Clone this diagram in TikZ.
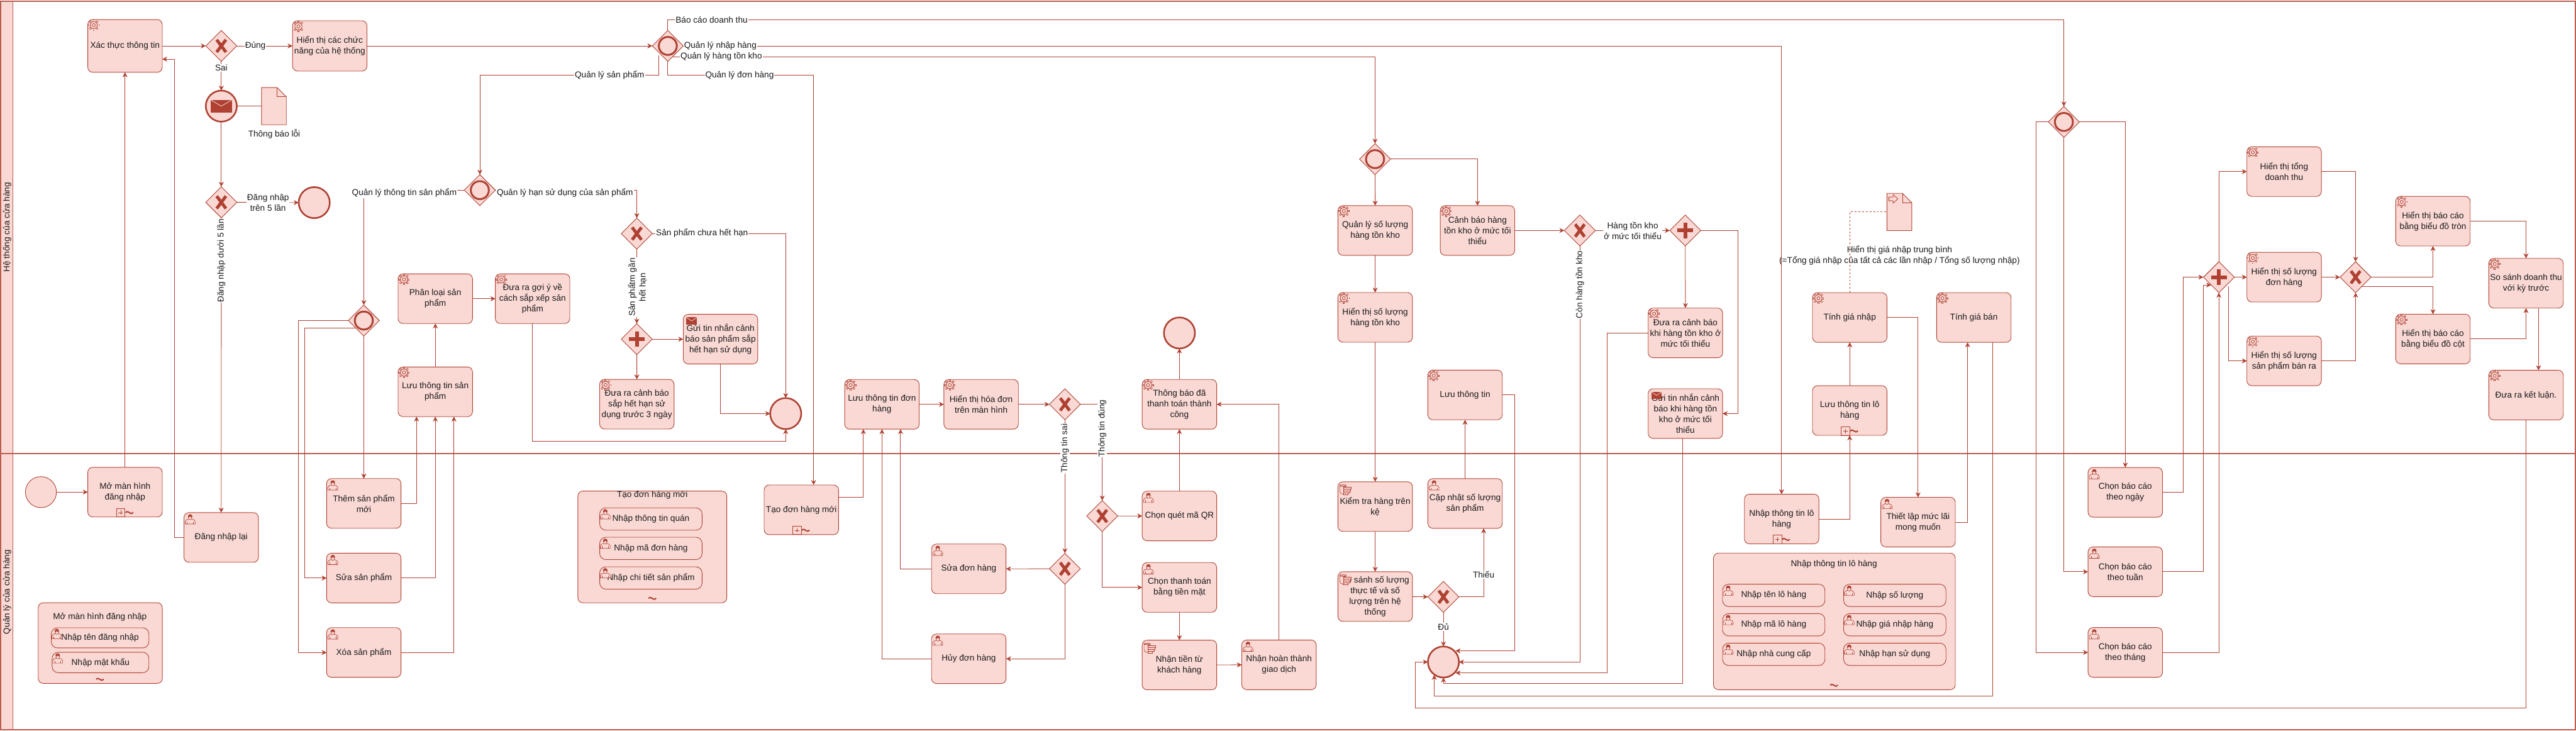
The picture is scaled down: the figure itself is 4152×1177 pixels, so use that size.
\documentclass[tikz,border=0pt]{standalone}
\usepackage{fontspec}
\setmainfont{Liberation Sans}
\usetikzlibrary{shapes.geometric,arrows.meta,calc}
\definecolor{bcol}{HTML}{AE4132}
\definecolor{bfill}{HTML}{FAD9D5}
\definecolor{txt}{HTML}{1A1A1A}
\tikzset{
  task/.style={draw=bcol,fill=bfill,rounded corners=8pt,line width=.9pt,minimum width=120pt,minimum height=80pt,inner sep=0pt,outer sep=0pt,align=center,text=txt,font=\fontsize{13.8}{17.2}\selectfont},
  subt/.style={task,rounded corners=10pt,minimum width=165pt,minimum height=36pt},
  gateway/.style={diamond,aspect=1,draw=bcol,fill=bfill,line width=.9pt,minimum width=50pt,minimum height=50pt,inner sep=0pt,outer sep=0pt},
  evt/.style={circle,draw=bcol,fill=bfill,minimum size=50pt,inner sep=0pt,outer sep=0pt,line width=.9pt},
  endevt/.style={evt,minimum size=50pt,line width=2.6pt},
  flow/.style={draw=bcol,line width=.9pt,-{Stealth[length=8pt,width=8pt,inset=2.5pt]}},
  plainln/.style={draw=bcol,line width=.9pt},
  lbl/.style={fill=white,inner sep=1pt,outer sep=0pt,align=center,text=txt,font=\fontsize{13.8}{17.2}\selectfont},
  free/.style={inner sep=0pt,outer sep=0pt,align=center,text=txt,font=\fontsize{13.8}{17.2}\selectfont},
}
\newcommand\gwX[3]{\node[gateway] (#1) at (#2,#3) {};
  \draw[bcol,line width=5pt] ($(#1)+(-7.5,-10)$) -- ($(#1)+(7.5,10)$) ($(#1)+(7.5,-10)$) -- ($(#1)+(-7.5,10)$);}
\newcommand\gwP[3]{\node[gateway] (#1) at (#2,#3) {};
  \draw[bcol,line width=6pt] ($(#1)+(-12.5,0)$) -- ($(#1)+(12.5,0)$) ($(#1)+(0,-12.5)$) -- ($(#1)+(0,12.5)$);}
\newcommand\gwO{\gwOinner}
\newcommand\gwOinner[3]{\node[gateway] (#1) at (#2,#3) {};
  \draw[bcol,line width=3pt] (#1) circle[radius=14.5pt];}
\newcommand\gearicon[1]{\begin{scope}[shift={(#1.north west)}]
  \foreach \a in {0,45,...,315} {\draw[bcol,line width=2.8pt] (9.5,9) ++(\a:5.5) -- ++(\a:3.6);
    \draw[bfill,line width=1.2pt] (9.5,9) ++(\a:5.5) -- ++(\a:3);}
  \draw[bcol,fill=bfill,line width=.8pt] (9.5,9) circle[radius=5.8pt];
  \draw[bcol,line width=.8pt] (9.5,9) circle[radius=2.6pt];
  \end{scope}}
\newcommand\usericon[3]{\begin{scope}[shift={($(#1.north west)+(#2,#3)$)}]
  \draw[bcol,fill=bfill,line width=.7pt] (0,16) -- (0,12) .. controls (0,9.5) and (3,9) .. (5,8) -- (11,8) .. controls (13,9) and (16,9.5) .. (16,12) -- (16,16) -- cycle;
  \fill[bcol] (8,3.8) circle[radius=3.6pt];
  \draw[bcol,fill=bfill,line width=.6pt] (8,6.4) circle[radius=2.7pt];
  \draw[bcol,line width=.5pt] (3,12.5) -- (3,16) (13,12.5) -- (13,16);
  \end{scope}}
\newcommand\handicon[1]{\begin{scope}[shift={($(#1.north west)+(3,4)$)}]
  \draw[bcol,fill=bfill,line width=.7pt,rounded corners=1.5pt] (0,1) -- (10,1) -- (10,3) -- (0,3) -- cycle;
  \draw[bcol,fill=bfill,line width=.7pt,rounded corners=1.5pt] (0,1) -- (0,13) -- (4,16) -- (11,16) -- (11,4) -- (0,3);
  \foreach \yy/\ww in {5/18,8/17,11/16,14/13}{\draw[bcol,fill=bfill,line width=.7pt] (6,\yy) rectangle (\ww,\yy+2.6);}
  \end{scope}}
\newcommand\mailicon[1]{\begin{scope}[shift={($(#1.north west)+(5,4.8)$)}]
  \fill[bcol] (0,0) rectangle (17,11.5);
  \draw[bfill,line width=.7pt] (0,0) -- (8.5,6) -- (17,0);
  \end{scope}}
\newcommand\squig[2]{\draw[bcol,line width=2pt] (#1-6,#2) .. controls (#1-3.5,#2-3) and (#1-1.5,#2-.8) .. (#1,#2) .. controls (#1+1.5,#2+.8) and (#1+3.5,#2+3) .. (#1+6,#2-.5);}
\newcommand\submark[1]{\begin{scope}[shift={(#1.south)}]
  \draw[bcol,line width=.8pt] (-14,-14) rectangle (0,0);
  \draw[bcol,line width=.6pt] (-10.5,-7) -- (-3.5,-7) (-7,-10.5) -- (-7,-3.5);
  \squig{7}{-7}
  \end{scope}}
\newcommand\docshape[1]{\begin{scope}[shift={(#1.north west)}]
  \draw[bcol,fill=bfill,line width=.9pt] (0,0) -- (25,0) -- (40,15) -- (40,60) -- (0,60) -- cycle;
  \draw[bcol,line width=.9pt] (25,0) -- (25,15) -- (40,15);
  \end{scope}}
\begin{document}
\begin{tikzpicture}[x=1pt,y=-1pt]
\useasboundingbox (0,0) rectangle (4152,1177);
% pool
\fill[bfill] (1,2) rectangle (21,1176);
\draw[bcol!85,line width=1.8pt] (1,2) rectangle (4151,1176);
\draw[bcol!85,line width=1.8pt] (1,731) -- (4151,731);
\draw[bcol!85,line width=1.4pt] (21,2) -- (21,1176);
\node[free,rotate=90] (lane1) at (11.5,366) {Hệ thống của cửa hàng};
\node[free,rotate=90] (lane2) at (11.5,954) {Quản lý của cửa hàng};

% login
\node[task,minimum height=85pt] (xt) at (201.5,74) {Xác thực thông tin};
\gwX{g1}{356.7}{74}
\node[task,minimum height=81pt] (ht) at (531.5,74) {Hiển thị các chức\\năng của hệ thống};
\node[endevt] (msg) at (356.7,171) {};
\fill[bcol] ($(msg)+(-17,-10)$) rectangle ($(msg)+(17,10)$);
\draw[bfill,line width=.8pt] ($(msg)+(-17,-10)$) -- ($(msg)+(0,0)$) -- ($(msg)+(17,-10)$);
\node[minimum width=40pt,minimum height=60pt,inner sep=0pt,outer sep=0pt] (doc1) at (441.5,171) {};
\docshape{doc1}
\node[free] (doc1l) at (442,216) {Thông báo lỗi};
\gwX{g2}{356.7}{326}
\node[endevt] (end1) at (506.5,326.5) {};
\node[task] (lai) at (356.5,866) {Đăng nhập lại};
\node[evt] (start) at (66,793) {};
\node[task] (mo) at (201.5,793) {Mở màn hình\\đăng nhập};
\node[task,minimum width=200pt,minimum height=130pt] (expm) at (161.6,1036.2) {};
\node[free] (expmt) at (161,994) {Mở màn hình đăng nhập};
\node[subt,minimum width=157.4pt,minimum height=32.4pt] (m1) at (161.3,1027.8) {Nhập tên đăng nhập};
\node[subt,minimum width=156pt,minimum height=33pt] (m2) at (162,1067.5) {Nhập mật khẩu};
\squig{161}{1094.7}
\submark{mo}
\gearicon{xt}\gearicon{ht}
\usericon{lai}{2}{2.4}
\usericon{m1}{1}{1.5}\usericon{m2}{1}{1.5}

% products
\gwO{g0}{1076.4}{74}
\gwO{gp}{773.4}{306.4}
\gwO{g3}{586.4}{516.5}
\gwX{gex}{1026.4}{376.4}
\gwP{gpar}{1026.4}{546.5}
\node[task] (pl) at (701.6,481.3) {Phân loại sản\\phẩm};
\node[task] (goiy) at (858.4,481.3) {Đưa ra gợi ý về\\cách sắp xếp sản\\phẩm};
\node[task] (luu) at (701.6,631.3) {Lưu thông tin sản\\phẩm};
\node[task] (gui) at (1161.3,546.5) {Gửi tin nhắn cảnh\\báo sản phẩm sắp\\hết hạn sử dụng};
\node[task] (dcb) at (1026.5,651.3) {Đưa ra cảnh báo\\sắp hết hạn sử\\dụng trước 3 ngày};
\node[endevt] (e2) at (1266.4,666.4) {};
\node[task] (them) at (586.4,811.2) {Thêm sản phẩm\\mới};
\node[task] (sua) at (586.4,931.4) {Sửa sản phẩm};
\node[task] (xoa) at (586.4,1051.4) {Xóa sản phẩm};
\gearicon{pl}\gearicon{goiy}\gearicon{luu}\gearicon{dcb}
\mailicon{gui}
\usericon{them}{2}{2.4}\usericon{sua}{2}{2.4}\usericon{xoa}{2}{2.4}

% orders
\node[task,minimum width=240pt,minimum height=180pt] (expt) at (1051.4,881.3) {};
\node[free] (exptt) at (1051.4,797.3) {Tạo đơn hàng mới};
\node[subt] (t1a) at (1049.1,836.3) {Nhập thông tin quán};
\node[subt] (t2a) at (1049.1,883.7) {Nhập mã đơn hàng};
\node[subt] (t3a) at (1049.1,931.3) {Nhập chi tiết sản phẩm};
\squig{1051.4}{964.3}
\usericon{t1a}{1}{2}\usericon{t2a}{1}{2}\usericon{t3a}{1}{2}
\node[task] (td) at (1291.6,821.5) {Tạo đơn hàng mới};
\submark{td}
\node[task] (ltd) at (1421.5,651.5) {Lưu thông tin đơn\\hàng};
\node[task] (hd) at (1581.4,651.5) {Hiển thị hóa đơn\\trên màn hình};
\gwX{ga}{1716.4}{651.5}
\gwX{gb}{1716.4}{916.5}
\gwX{gc}{1776.6}{831.5}
\node[task] (suad) at (1561.5,916.6) {Sửa đơn hàng};
\node[task] (huy) at (1561.5,1061.5) {Hủy đơn hàng};
\node[task] (tb) at (1901,651.5) {Thông báo đã\\thanh toán thành\\công};
\node[endevt] (e3) at (1901,536.5) {};
\node[task] (qr) at (1901,831.4) {Chọn quét mã QR};
\node[task] (tm) at (1901,946.5) {Chọn thanh toán\\bằng tiền mặt};
\node[task] (nt) at (1901,1071.5) {Nhận tiền từ\\khách hàng};
\node[task] (ht2) at (2061.5,1071.3) {Nhận hoàn thành\\giao dịch};
\gearicon{ltd}\gearicon{hd}\gearicon{tb}
\usericon{suad}{2}{2.4}\usericon{huy}{2}{2.4}\usericon{qr}{2}{2.4}\usericon{tm}{2}{2.4}\usericon{ht2}{2}{2.4}
\handicon{nt}

% inventory
\gwO{gi}{2216.3}{256.4}
\gwX{ge}{2546.4}{371.4}
\gwP{gf}{2716.3}{371.4}
\gwX{gd}{2326.5}{961.7}
\node[task] (ql) at (2216.5,371.4) {Quản lý số lượng\\hàng tồn kho};
\node[task] (cb) at (2381.4,371.4) {Cảnh báo hàng\\tồn kho ở mức tối\\thiểu};
\node[task] (hsl) at (2216.5,511.4) {Hiển thị số lượng\\hàng tồn kho};
\node[task] (lt) at (2361.4,636.4) {Lưu thông tin};
\node[task] (dc) at (2716.5,536.4) {Đưa ra cảnh báo\\khi hàng tồn kho ở\\mức tối thiểu};
\node[task] (gui2) at (2716.5,666.4) {Gửi tin nhắn cảnh\\báo khi hàng tồn\\kho ở mức tối\\thiểu};
\node[task] (kt) at (2216.5,816.3) {Kiểm tra hàng trên\\kệ};
\node[task] (ss) at (2216.5,961.3) {So sánh số lượng\\thực tế và số\\lượng trên hệ\\thống};
\node[task] (cn) at (2361.4,811.3) {Cập nhật số lượng\\sản phẩm};
\node[endevt] (e4) at (2326.5,1066.7) {};
\gearicon{ql}\gearicon{cb}\gearicon{hsl}\gearicon{lt}\gearicon{dc}
\mailicon{gui2}\handicon{kt}\handicon{ss}
\usericon{cn}{2}{2.4}

% purchasing
\node[task] (nl) at (2871.6,836.3) {Nhập thông tin lô\\hàng};
\submark{nl}
\node[task] (ln) at (2981.4,661.5) {Lưu thông tin lô\\hàng};
\submark{ln}
\node[task] (tgn) at (2981.4,511.6) {Tính giá nhập};
\node[task] (tgb) at (3181.4,511.6) {Tính giá bán};
\node[task] (tl) at (3091.5,841.3) {Thiết lập mức lãi\\mong muốn};
\node[minimum width=40pt,minimum height=60pt,inner sep=0pt,outer sep=0pt] (doc2) at (3061.4,341.5) {};
\docshape{doc2}
\begin{scope}[shift={(doc2.north west)}]
\draw[bcol,line width=.8pt] (3,6) -- (10,6) -- (10,2) -- (17.5,9) -- (10,16) -- (10,12) -- (3,12) -- cycle;
\end{scope}
\node[free] (doc2l) at (3061.7,411.5) {Hiển thị giá nhập trung bình\\(=Tổng giá nhập của tất cả các lần nhập / Tổng số lượng nhập)};
\node[task,minimum width=389.8pt,minimum height=220pt] (expl) at (2956.6,1001.3) {};
\gearicon{tgn}\gearicon{tgb}
\usericon{tl}{2}{2.4}

% reports
\gwO{gr}{3326.5}{196.5}
\gwP{gP}{3576.4}{446.6}
\gwX{gQ}{3796.7}{446.6}
\node[task] (cngay) at (3425.5,793.3) {Chọn báo cáo\\theo ngày};
\node[task] (ctuan) at (3425.5,921.3) {Chọn báo cáo\\theo tuần};
\node[task] (cthang) at (3425.5,1051.3) {Chọn báo cáo\\theo tháng};
\node[task] (r1) at (3681.5,276.5) {Hiển thị tổng\\doanh thu};
\node[task] (r2) at (3681.5,446.6) {Hiển thị số lượng\\đơn hàng};
\node[task] (r3) at (3681.5,581.5) {Hiển thị số lượng\\sản phẩm bán ra};
\node[task] (tron) at (3921.4,356.4) {Hiển thị báo cáo\\bằng biểu đồ tròn};
\node[task] (cot) at (3921.4,546.3) {Hiển thị báo cáo\\bằng biểu đồ cột};
\node[task] (sos) at (4071.4,456.4) {So sánh doanh thu\\với kỳ trước};
\node[task] (kl) at (4071.4,636.6) {Đưa ra kết luận.};
\usericon{cngay}{2}{2.4}\usericon{ctuan}{2}{2.4}\usericon{cthang}{2}{2.4}
\gearicon{r1}\gearicon{r2}\gearicon{r3}\gearicon{tron}\gearicon{cot}\gearicon{sos}\gearicon{kl}

% lot sub-process
\squig{2956}{1104.3}
\node[free] (expltitle) at (2956,909.3) {Nhập thông tin lô hàng};
\node[subt] (l1) at (2858.9,959.3) {Nhập tên lô hàng};
\node[subt] (l2) at (3054,959.3) {Nhập số lượng};
\node[subt] (l3) at (2858.9,1006.7) {Nhập mã lô hàng};
\node[subt] (l4) at (3054,1006.7) {Nhập giá nhập hàng};
\node[subt] (l5) at (2858.9,1054.3) {Nhập nhà cung cấp};
\node[subt] (l6) at (3054,1054.3) {Nhập hạn sử dụng};
\usericon{l1}{1}{2}\usericon{l2}{1}{2}\usericon{l3}{1}{2}\usericon{l4}{1}{2}\usericon{l5}{1}{2}\usericon{l6}{1}{2}

% connector ends on shape edges
\coordinate (xtr) at (261.5,95.3);
\coordinate (g0a) at (1085,91.2);
\coordinate (g0b) at (1061.6,89);
\coordinate (g3a) at (574,529);
\coordinate (e4a) at (2346,1048.7);
\coordinate (e4b) at (2346,1084.3);
\coordinate (e4d) at (2311.7,1087.5);
\coordinate (gpa) at (3564,459.2);
\coordinate (gpb) at (3591.5,461.5);
\coordinate (gqb) at (3807.3,461.5);

% connectors
\draw[flow] (start.east) -- (mo.west);
\draw[flow] (mo.north) -- (xt.south);
\draw[flow] (xt.east) -- (g1.west);
\draw[flow] (g1.east) -- (ht.west);
\draw[flow] (g1.south) -- (msg.north);
\draw[plainln,line width=.5pt] (msg.east) -- (doc1.west);
\draw[flow] (msg.south) -- (g2.north);
\draw[flow] (g2.east) -- (end1.west);
\draw[flow] (g2.south) -- (lai.north);
\draw[flow] (lai.west) -- ++(-15.1,0) |- (xtr);
\draw[flow] (ht.east) -- (g0.west);
\draw[flow] (g0.north) -- ++(0,-17.3) -| (gr.north);
\draw[flow] (g0.east) -| (nl.north);
\draw[flow] (g0a) -| (gi.north);
\draw[flow] (g0b) -- ++(0,32.5) -| (gp.north);
\draw[flow] (g0.south) -- ++(0,22.5) -| ([xshift=19.7pt]td.north);
\draw[flow] (gp.west) -| (g3.north);
\draw[flow] (gp.east) -| (gex.north);
\draw[flow] (gex.east) -| (e2.north);
\draw[flow] (gex.south) -- (gpar.north);
\draw[flow] (gpar.east) -- (gui.west);
\draw[flow] (gpar.south) -- (dcb.north);
\draw[flow] (gui.south) |- (e2.west);
\draw[flow] (goiy.south) -- ++(0,190) -| (e2.south);
\draw[flow] (g3.west) -- ++(-80.2,0) |- (xoa.west);
\draw[flow] (g3a) -- ++(-82.5,0) |- (sua.west);
\draw[flow] (g3.south) -- (them.north);
\draw[flow] (them.east) -| ([xshift=-30.2pt]luu.south);
\draw[flow] (sua.east) -| (luu.south);
\draw[flow] (xoa.east) -| ([xshift=30pt]luu.south);
\draw[flow] (luu.north) -- (pl.south);
\draw[flow] (pl.east) -- (goiy.west);
\draw[flow] ([yshift=20pt]td.east) -| ([xshift=-30pt]ltd.south);
\draw[flow] (ltd.east) -- (hd.west);
\draw[flow] (hd.east) -- (ga.west);
\draw[flow] (ga.south) -- (gb.north);
\draw[flow] (ga.east) -| (gc.north);
\draw[flow] (gb.west) -- (suad.east);
\draw[flow] (gb.south) |- (huy.east);
\draw[flow] (suad.west) -| ([xshift=30pt]ltd.south);
\draw[flow] (huy.west) -| (ltd.south);
\draw[flow] (gc.east) -- (qr.west);
\draw[flow] (gc.south) |- (tm.west);
\draw[flow] (tm.south) -- (nt.north);
\draw[flow] (nt.east) -- (ht2.west);
\draw[flow] (ht2.north) |- (tb.east);
\draw[flow] (qr.north) -- (tb.south);
\draw[flow] (tb.north) -- (e3.south);
\draw[flow] (gi.south) -- (ql.north);
\draw[flow] (gi.east) -| (cb.north);
\draw[flow] (ql.south) -- (hsl.north);
\draw[flow] (hsl.south) -- (kt.north);
\draw[flow] (kt.south) -- (ss.north);
\draw[flow] (ss.east) -- (gd.west);
\draw[flow] (gd.east) -| ([xshift=29.9pt]cn.south);
\draw[flow] (gd.south) -- (e4.north);
\draw[flow] (cn.north) -- (lt.south);
\draw[flow] (lt.east) -- ++(19.9,0) |- (e4a);
\draw[flow] (cb.east) -- (ge.west);
\draw[flow] (ge.east) -- (gf.west);
\draw[flow] (ge.south) |- (e4.east);
\draw[flow] (gf.south) -- (dc.north);
\draw[flow] (gf.east) -- ++(60.2,0) |- (gui2.east);
\draw[flow] (dc.west) -- ++(-65.8,0) |- (e4b);
\draw[flow] ([xshift=-4.8pt]gui2.south) -- ++(0,394.9) -| (e4.south);
\draw[flow] ([xshift=30.3pt]tgb.south) -- ++(0,569.7) -| (e4d);
\draw[flow] (kl.south) -- ++(0,464.7) -- ++(-1789.8,0) |- (e4.west);
\draw[flow] (nl.east) -| (ln.south);
\draw[flow] (ln.north) -- (tgn.south);
\draw[flow] (tgn.east) -| (tl.north);
\draw[flow] (tl.east) -| ([xshift=-10pt]tgb.south);
\draw[plainln,dashed] (tgn.north) |- (doc2.west);
\draw[flow] (gr.west) -- ++(-19.9,0) |- (cthang.west);
\draw[flow] (gr.south) |- (ctuan.west);
\draw[flow] (gr.east) -| (cngay.north);
\draw[flow] (cngay.east) -- ++(33.3,0) |- (gP.west);
\draw[flow] (ctuan.east) -- ++(66.2,0) |- (gpa);
\draw[flow] (cthang.east) -| (gP.south);
\draw[flow] (gP.north) |- (r1.west);
\draw[flow] (gP.east) -- (r2.west);
\draw[flow] (gpb) |- (r3.west);
\draw[flow] (r1.east) -| (gQ.north);
\draw[flow] (r2.east) -- (gQ.west);
\draw[flow] (r3.east) -| (gQ.south);
\draw[flow] (gQ.east) -| (tron.south);
\draw[flow] (gqb) -| (cot.north);
\draw[flow] (tron.east) -| (sos.north);
\draw[flow] (cot.east) -| (sos.south);
\draw[flow] ([xshift=20.2pt]sos.south) -- ([xshift=20.2pt]kl.north);

% connector labels
\node[lbl] (lb1) at (411.6,74) {Đúng};
\node[lbl] (lb2) at (356.7,109) {Sai};
\node[lbl] (lb3) at (432,326) {Đăng nhập\\trên 5 lần};
\node[lbl,rotate=90] (lb4) at (356.7,420) {Đăng nhập dưới 5 lần};
\node[lbl] (lb5) at (1147,31.7) {Báo cáo doanh thu};
\node[lbl] (lb6) at (1161,74) {Quản lý nhập hàng};
\node[lbl] (lb7) at (1162.6,91.2) {Quản lý hàng tồn kho};
\node[lbl] (lb8) at (982.6,121.5) {Quản lý sản phẩm};
\node[lbl] (lb9) at (1192,121.5) {Quản lý đơn hàng};
\node[lbl] (lb10) at (651.7,311) {Quản lý thông tin sản phẩm};
\node[lbl] (lb11) at (910.6,311) {Quản lý hạn sử dụng của sản phẩm};
\node[lbl] (lb12) at (1131.5,375.7) {Sản phẩm chưa hết hạn};
\node[lbl,rotate=90] (lb13) at (1027.4,462.8) {Sản phẩtm gần\\hết hạn};
\node[lbl,rotate=90] (lb14) at (1716.4,722.6) {Thông tin sai};
\node[lbl,rotate=90] (lb15) at (1776.6,690.4) {Thông tin đúng};
\node[lbl] (lb16) at (2391.3,926) {Thiếu};
\node[lbl] (lb17) at (2326.5,1010) {Đủ};
\node[lbl,rotate=90] (lb18) at (2546.4,458.6) {Còn hàng tồn kho};
\node[lbl] (lb19) at (2631.6,371.4) {Hàng tồn kho\\ở mức tối thiểu};
\end{tikzpicture}
\end{document}
